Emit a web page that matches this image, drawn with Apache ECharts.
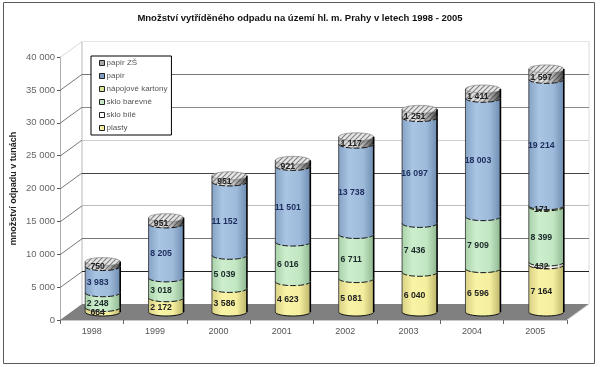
<!DOCTYPE html>
<html><head><meta charset="utf-8">
<style>html,body{margin:0;padding:0;background:#fff}#c{width:600px;height:367px}</style>
<script src="https://cdn.jsdelivr.net/npm/echarts@6/dist/echarts.min.js"></script>
</head><body><div id="c"></div>
<script>
const years = ['1998','1999','2000','2001','2002','2003','2004','2005'];
const plasty      = [684, 2172, 3586, 4623, 5081, 6040, 6596, 7164];
const skloBile    = [0, 0, 0, 0, 0, 0, 0, 432];
const skloBarevne = [2248, 3018, 5039, 6016, 6711, 7436, 7909, 8399];
const napojove    = [0, 0, 0, 0, 0, 0, 0, 171];
const papir       = [3983, 8205, 11152, 11501, 13738, 16097, 18003, 19214];
const papirZS     = [750, 951, 951, 921, 1117, 1251, 1411, 1597];
const valueTicks  = [0, 5000, 10000, 15000, 20000, 25000, 30000, 35000, 40000];
const title = 'Množství vytříděného odpadu na území hl. m. Prahy v letech 1998 - 2005';
const yName = 'množství odpadu v tunách';

// styling (not data)
const gridLineColors = ['#808080','#222222','#777777','#bdbdbd','#444444','#cfcfcf','#8a8a8a','#777777','#e4e4e4'];
const DX = 22, DY = 16, RX = 17.5, RY = 4;
const stackDefs = [
  {name:'plasty', values:plasty, flat:'#f3eca0', g:['#d9d184','#f9f3a6','#f4ee9e','#bdb66c'], txt:'#222'},
  {name:'sklo bílé', values:skloBile, flat:'#ffffff', g:['#d8d8d0','#fbfbf5','#f4f4ec','#b8b8b0'], txt:'#222'},
  {name:'sklo barevné', values:skloBarevne, flat:'#c4e8c4', g:['#a9d2aa','#cdeecd','#c2e6c2','#8fb892'], txt:'#1a2a2a'},
  {name:'nápojové kartony', values:napojove, flat:'#d8e69a', g:['#bcd088','#dcecA0','#d4e498','#a0b474'], txt:'#222'},
  {name:'papír', values:papir, flat:'#7f9fc4', g:['#86a3c6','#a9c5e3','#9dbada','#6f8db2'], txt:'#1c2c5c'},
  {name:'papír ZŠ', values:papirZS, flat:'#a8a8a8', hatch:true, txt:'#222'}
];

function makeHatch(){
  const c = document.createElement('canvas'); c.width = 5; c.height = 5;
  const x = c.getContext('2d');
  x.fillStyle = '#e6e6e6'; x.fillRect(0,0,5,5);
  x.strokeStyle = '#808080'; x.lineWidth = 1.1;
  x.beginPath(); x.moveTo(-1,6); x.lineTo(6,-1); x.moveTo(-1,1); x.lineTo(1,-1); x.moveTo(4,6); x.lineTo(6,4); x.stroke();
  return c;
}
const hatchPattern = {image: makeHatch(), repeat: 'repeat'};

function arc(cx, cy, n){ // front half of an ellipse, left to right
  const pts = [];
  for (let i = 0; i <= n; i++){
    const t = Math.PI - Math.PI * i / n;
    pts.push([cx + RX * Math.cos(t), cy + RY * Math.sin(t)]);
  }
  return pts;
}
function fmt(v){ return String(v).replace(/\B(?=(\d{3})+$)/g, ' '); }

function cylinderSeries(def, idx){
  const data = years.map((y, i) => {
    let base = 0;
    for (let k = 0; k < idx; k++) base += stackDefs[k].values[i];
    return [i, base, base + def.values[i], def.values[i]];
  });
  return {
    type:'custom', name:def.name, coordinateSystem:'cartesian2d', z:3, silent:true,
    itemStyle:{color:def.flat},
    encode:{x:0, y:2},
    data,
    renderItem(params, api){
      const val = api.value(3);
      if (!val) return {type:'group', children:[]};
      const i = api.value(0);
      const p0 = api.coord([i, api.value(1)]), p1 = api.coord([i, api.value(2)]);
      const cx = p0[0] + DX/2, y0 = p0[1] - DY/2, y1 = p1[1] - DY/2;
      const bottom = arc(cx, y0, 20), top = arc(cx, y1, 20);
      const body = bottom.concat(top.slice().reverse());
      const children = [];
      const fill = def.hatch ? hatchPattern : {type:'linear',x:0,y:0,x2:1,y2:0,colorStops:[
        {offset:0,color:def.g[0]},{offset:.3,color:def.g[1]},{offset:.7,color:def.g[2]},{offset:1,color:def.g[3]}]};
      children.push({type:'polygon', shape:{points:body}, style:{fill, stroke:null}});
      if (def.hatch){
        children.push({type:'polygon', shape:{points:body}, style:{fill:{type:'linear',x:0,y:0,x2:1,y2:0,colorStops:[
          {offset:0,color:'rgba(60,60,60,.2)'},{offset:.35,color:'rgba(255,255,255,.15)'},{offset:.7,color:'rgba(40,40,40,.3)'},{offset:1,color:'rgba(20,20,20,.75)'}]}}});
        const ell = [];
        for (let k = 0; k < 40; k++){ const t = 2*Math.PI*k/40; ell.push([cx+RX*Math.cos(t), y1+RY*Math.sin(t)]); }
        children.push({type:'polygon', shape:{points:ell}, style:{fill:hatchPattern, stroke:'#777', lineWidth:.6}});
      }
      children.push({type:'polyline', shape:{points:[[cx-RX,y0],[cx-RX,y1]]}, style:{stroke:'#2a2a2a', lineWidth:.8, fill:null}});
      children.push({type:'polyline', shape:{points:[[cx+RX,y0],[cx+RX,y1]]}, style:{stroke:'#000', lineWidth:1.6, fill:null}});
      children.push({type:'polyline', shape:{points:bottom}, style:{stroke:'#111', lineWidth:1, fill:null, lineDash: idx === 0 ? null : [6,2]}});
      children.push({type:'text', z2:50, style:{
        text:fmt(val), x:cx-5, y:(y0+y1)/2+3, align:'center', verticalAlign:'middle',
        font:'bold 8.7px "Liberation Sans", Arial, sans-serif', fill:def.txt }});
      return {type:'group', children};
    }
  };
}

const frameSeries = {
  type:'custom', coordinateSystem:'cartesian2d', z:1, silent:true,
  encode:{x:0, y:1},
  data:valueTicks.map(v => [0, v]),
  renderItem(params, api){
    const v = api.value(1), c = params.coordSys;
    const y = api.coord([0, v])[1], x0 = c.x, x1 = c.x + c.width;
    const col = gridLineColors[params.dataIndex];
    const ch = [];
    if (v === 0){
      ch.push({type:'polygon', shape:{points:[[x0,y],[x1,y],[x1+DX,y-DY],[x0+DX,y-DY]]}, style:{fill:'#808080'}});
      ch.push({type:'polyline', shape:{points:[[x1,y],[x1+DX,y-DY]]}, style:{stroke:'#d0d0d0',lineWidth:1,fill:null}});
      ch.push({type:'polyline', shape:{points:[[x0+DX,y-DY],[x0+DX,c.y-DY]]}, style:{stroke:'#b8b8b8',lineWidth:1,fill:null}});
      ch.push({type:'polyline', shape:{points:[[x1+DX,y-DY],[x1+DX,c.y-DY]]}, style:{stroke:'#dcdcdc',lineWidth:1,fill:null}});
    } else {
      ch.push({type:'polyline', shape:{points:[[x0,y+.5],[x0+DX,y-DY+.5]]}, style:{stroke:v===40000?'#cfcfcf':'#555',lineWidth:.8,fill:null}});
      ch.push({type:'polyline', shape:{points:[[x0+DX,Math.round(y-DY)+.5],[x1+DX,Math.round(y-DY)+.5]]}, style:{stroke:col,lineWidth:1,fill:null}});
    }
    return {type:'group', children:ch};
  }
};

const chart = echarts.init(document.getElementById('c'), null, {renderer:'canvas'});
chart.setOption({
  animation:false,
  backgroundColor:'#fff',
  textStyle:{fontFamily:'"Liberation Sans", Arial, sans-serif'},
  title:{text:title, left:'center', top:13, padding:0,
    textStyle:{fontSize:9.5, fontWeight:'bold', color:'#111', fontFamily:'"Liberation Sans", Arial, sans-serif'}},
  legend:{
    orient:'vertical', left:91, top:56, padding:[1,4,1,8], itemGap:1,
    itemWidth:5, itemHeight:5, icon:'rect', selectedMode:false,
    backgroundColor:'#fff', borderColor:'#000', borderWidth:1,
    itemStyle:{borderColor:'#222', borderWidth:1},
    textStyle:{fontSize:8, color:'#555', lineHeight:12, padding:[0,0,0,-3]},
    data:stackDefs.map(d => d.name).reverse()
  },
  grid:{left:60, right:33, top:57, bottom:47, containLabel:false},
  xAxis:{type:'category', data:years, boundaryGap:true,
    axisLine:{show:true, lineStyle:{color:'#c8c8c8', width:1}},
    axisTick:{show:true, length:4, lineStyle:{color:'#666'}},
    axisLabel:{color:'#555', fontSize:9, margin:7}},
  yAxis:{type:'value', min:0, max:40000, interval:5000,
    name:yName, nameLocation:'middle', nameGap:42, nameRotate:90, nameMoveOverlap:false,
    nameTextStyle:{fontSize:9, fontWeight:'bold', color:'#222'},
    axisLine:{show:true, lineStyle:{color:'#b0b0b0', width:1}},
    axisTick:{show:true, length:3, lineStyle:{color:'#555'}},
    splitLine:{show:false},
    axisLabel:{color:'#666', fontSize:9.5, margin:5, formatter:v => fmt(v)}},
  graphic:[{type:'rect', silent:true, shape:{x:3.5, y:2.5, width:591, height:361},
    style:{fill:null, stroke:'#5a5a5a', lineWidth:1}, z:100}],
  series:[frameSeries].concat(stackDefs.map(cylinderSeries))
});
</script></body></html>
